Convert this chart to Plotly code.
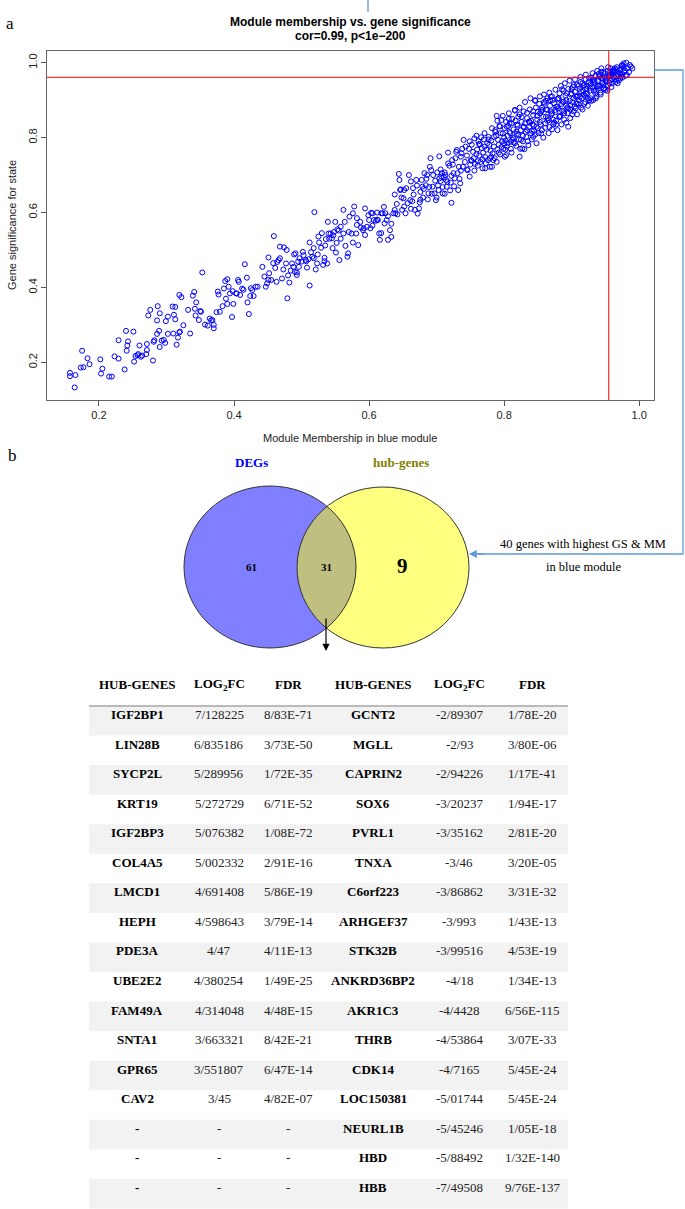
import plotly.graph_objects as go

W, H = 685, 1209

# ---------------- data: panel a (scatter) ----------------
module_membership = [
0.157,0.157,0.165,0.164,0.175,0.173,0.177,0.183,0.186,0.202,0.203,0.205,0.215,0.219,0.223,0.229,0.229,0.238,0.240,0.241,
0.242,0.243,0.251,0.252,0.254,0.257,0.258,0.260,0.262,0.264,0.270,0.271,0.271,0.273,0.276,0.280,0.281,0.282,0.286,0.287,
0.289,0.286,0.290,0.290,0.293,0.296,0.298,0.299,0.302,0.302,0.309,0.310,0.311,0.313,0.313,0.315,0.317,0.319,0.319,0.320,
0.322,0.325,0.332,0.335,0.339,0.341,0.342,0.343,0.344,0.348,0.350,0.351,0.353,0.357,0.361,0.364,0.366,0.368,0.370,0.370,
0.374,0.376,0.377,0.379,0.383,0.385,0.387,0.388,0.390,0.390,0.392,0.394,0.397,0.398,0.399,0.403,0.404,0.406,0.407,0.409,
0.412,0.414,0.416,0.419,0.420,0.422,0.424,0.425,0.427,0.429,0.432,0.435,0.442,0.445,0.447,0.449,0.451,0.451,0.455,0.459,
0.461,0.464,0.466,0.468,0.471,0.474,0.477,0.479,0.480,0.482,0.486,0.488,0.490,0.491,0.493,0.493,0.495,0.497,0.500,0.503,
0.506,0.508,0.510,0.512,0.514,0.516,0.518,0.519,0.521,0.523,0.525,0.526,0.529,0.532,0.534,0.534,0.536,0.538,0.539,0.540,
0.543,0.545,0.547,0.548,0.550,0.551,0.552,0.555,0.556,0.558,0.562,0.562,0.565,0.568,0.569,0.571,0.574,0.576,0.578,0.581,
0.582,0.584,0.587,0.591,0.592,0.594,0.597,0.599,0.602,0.603,0.605,0.607,0.610,0.612,0.613,0.615,0.616,0.618,0.620,0.623,
0.624,0.626,0.628,0.631,0.633,0.636,0.638,0.639,0.641,0.644,0.645,0.646,0.647,0.649,0.651,0.652,0.654,0.655,0.659,0.661,
0.662,0.664,0.665,0.668,0.670,0.672,0.674,0.675,0.676,0.678,0.679,0.681,0.684,0.686,0.688,0.690,0.692,0.694,0.697,0.699,
0.701,0.703,0.704,0.706,0.707,0.709,0.711,0.712,0.714,0.715,0.717,0.720,0.722,0.723,0.725,0.727,0.729,0.730,0.733,0.735,
0.736,0.740,0.743,0.746,0.749,0.751,0.754,0.756,0.759,0.761,0.763,0.766,0.768,0.771,0.772,0.775,0.777,0.779,0.781,0.782,
0.785,0.787,0.789,0.791,0.793,0.796,0.798,0.800,0.801,0.803,0.804,0.806,0.808,0.810,0.812,0.814,0.816,0.818,0.821,0.823,
0.825,0.827,0.829,0.830,0.834,0.837,0.840,0.842,0.843,0.846,0.848,0.850,0.853,0.855,0.856,0.860,0.862,0.864,0.866,0.868,
0.869,0.871,0.873,0.876,0.877,0.879,0.881,0.882,0.886,0.888,0.889,0.892,0.894,0.895,0.898,0.900,0.903,0.905,0.907,0.908,
0.909,0.912,0.914,0.918,0.920,0.921,0.923,0.926,0.927,0.931,0.933,0.935,0.937,0.939,0.942,0.944,0.946,0.947,0.950,0.952,
0.955,0.957,0.959,0.960,0.962,0.964,0.966,0.968,0.971,0.973,0.975,0.977,0.979,0.982,0.986,0.981,
0.742,0.745,0.748,0.750,0.752,0.755,0.757,0.760,0.762,0.763,0.765,0.767,0.769,0.770,0.772,0.774,0.776,0.778,0.780,0.781,
0.783,0.785,0.786,0.788,0.790,0.792,0.794,0.795,0.797,0.799,
0.801,0.802,0.804,0.805,0.807,0.808,0.810,0.811,0.813,0.814,0.816,0.817,0.819,0.820,0.822,0.823,0.825,0.826,0.828,0.829,
0.831,0.832,0.834,0.835,0.837,0.838,0.840,0.841,0.843,0.844,0.846,0.847,0.849,0.850,0.852,0.853,0.855,0.856,0.858,0.859,
0.861,0.862,0.864,0.865,0.867,0.868,0.870,0.871,0.873,0.874,0.876,0.877,0.879,0.880,0.882,0.883,0.885,0.886,0.888,0.889,
0.891,0.892,0.894,0.895,0.897,0.898,0.899,0.901,0.902,0.903,
0.905,0.906,0.908,0.909,0.911,0.912,0.913,0.915,0.916,0.917,0.919,0.920,0.921,0.923,0.924,0.925,0.927,0.928,0.929,0.931,
0.932,0.933,0.935,0.936,0.937,0.939,0.940,0.941,0.943,0.944,0.945,0.947,0.948,0.949,0.951,
0.953,0.954,0.956,0.957,0.958,0.960,0.961,0.963,0.964,0.966,0.967,0.969,0.970,0.972,0.973,0.975,0.976,0.978,0.980,0.983,
0.985,0.988,0.990,
0.600,0.605,0.612,0.618,0.622,0.628,0.633,0.638,0.642,0.648,0.652,0.657,0.662,0.666,0.671,0.676,0.680,0.685,0.689,0.693,
0.698,0.702,0.706,0.709,0.713,0.716,0.719,0.722,0.726,0.728,0.731,0.734,0.737,0.739,
0.452,0.458,0.463,0.468,0.473,0.478,0.484,0.489,0.496,0.502,0.507,0.512,0.518,0.524,0.530,0.535,0.541,0.546,0.553,0.558,
0.564,0.570,0.576,0.582,0.588,0.594,
0.790,0.792,0.794,0.796,0.798,0.800,0.802,0.803,0.805,0.807,0.809,0.811,0.812,0.814,0.816,0.818,0.819,0.821,0.823,0.824,
0.826,0.828,0.829,0.831,0.833,0.834,0.836,0.838,0.839,0.841,0.843,0.844,0.846,0.848,0.849,0.851,0.853,0.854,0.856,0.858,
0.859,0.861,0.862,0.864,0.866,0.867,0.869,0.871,0.872,0.874,
0.876,0.877,0.879,0.880,0.882,0.884,0.885,0.887,0.888,0.890,0.892,0.893,0.895,0.897,0.898,0.900,0.901,0.903,0.905,0.906,
0.908,0.910,0.911,0.913,0.914,0.916,0.918,0.919,0.921,0.922,
0.924,0.926,0.928,0.929,0.931,0.933,0.934,0.936,0.938,0.939,0.941,0.943,0.944,0.946,0.948,0.949,0.951,0.953,0.954,0.956,
0.957,0.959,0.961,0.963,0.965,0.967,0.969,0.972,0.974,0.977,
0.745,0.749,0.752,0.756,0.759,0.761,0.764,0.768,0.771,0.773,0.777,0.779,0.782,0.784,0.787,0.789,
0.682,0.687,0.691,0.695,0.700,0.704,0.708,0.712,0.717,0.721,0.724,0.732,0.736,0.738,
]
gene_significance = [
0.172,0.163,0.166,0.133,0.231,0.186,0.187,0.211,0.195,0.208,0.170,0.183,0.162,0.162,0.216,0.259,0.210,0.181,0.284,0.231,
0.245,0.256,0.282,0.202,0.217,0.219,0.222,0.245,0.215,0.218,0.222,0.233,0.249,0.325,0.340,0.205,0.255,0.259,0.276,0.350,
0.284,0.312,0.331,0.241,0.258,0.260,0.252,0.310,0.276,0.322,0.349,0.277,0.327,0.315,0.348,0.247,0.266,0.280,0.380,0.282,
0.374,0.299,0.340,0.277,0.378,0.388,0.343,0.325,0.360,0.313,0.337,0.335,0.440,0.301,0.298,0.317,0.312,0.313,0.291,0.300,
0.334,0.389,0.381,0.335,0.350,0.397,0.417,0.370,0.422,0.356,0.402,0.384,0.321,0.390,0.356,0.384,0.384,0.420,0.415,0.380,
0.397,0.394,0.462,0.426,0.360,0.329,0.377,0.398,0.393,0.377,0.402,0.402,0.455,0.429,0.402,0.411,0.420,0.480,0.420,0.537,
0.452,0.468,0.473,0.509,0.424,0.507,0.464,0.371,0.432,0.413,0.464,0.455,0.442,0.491,0.440,0.433,0.469,0.478,0.469,0.486,
0.473,0.453,0.475,0.405,0.494,0.482,0.478,0.601,0.448,0.464,0.536,0.520,0.506,0.460,0.479,0.470,0.529,0.464,0.575,0.544,
0.544,0.531,0.539,0.548,0.575,0.493,0.519,0.552,0.473,0.562,0.544,0.607,0.511,0.482,0.491,0.589,0.544,0.598,0.616,0.544,
0.567,0.513,0.575,0.553,0.558,0.611,0.562,0.593,0.558,0.599,0.598,0.580,0.578,0.581,0.580,0.544,0.527,0.598,0.598,0.571,
0.598,0.580,0.527,0.553,0.535,0.598,0.607,0.598,0.623,0.703,0.687,0.660,0.662,0.607,0.638,0.616,0.598,0.665,0.700,0.633,
0.683,0.630,0.665,0.607,0.687,0.597,0.611,0.627,0.634,0.687,0.669,0.663,0.673,0.700,0.651,0.722,0.713,0.669,0.651,0.633,
0.707,0.660,0.691,0.684,0.696,0.651,0.694,0.707,0.687,0.669,0.731,0.659,0.626,0.740,0.705,0.691,0.762,0.767,0.722,0.678,
0.749,0.794,0.776,0.713,0.696,0.740,0.762,0.798,0.756,0.737,0.783,0.801,0.742,0.776,0.718,0.785,0.802,0.745,0.749,0.722,
0.802,0.820,0.858,0.794,0.831,0.847,0.811,0.785,0.749,0.753,0.829,0.831,0.838,0.789,0.794,0.787,0.874,0.816,0.856,0.749,
0.794,0.771,0.829,0.769,0.820,0.843,0.811,0.836,0.802,0.900,0.829,0.869,0.865,0.811,0.874,0.891,0.856,0.874,0.847,0.900,
0.909,0.865,0.836,0.874,0.845,0.883,0.905,0.856,0.929,0.896,0.865,0.900,0.881,0.829,0.887,0.918,0.940,0.883,0.890,0.909,
0.891,0.909,0.923,0.940,0.911,0.918,0.938,0.900,0.933,0.954,0.954,0.918,0.936,0.931,0.967,0.976,0.958,0.940,0.927,0.954,
0.963,0.976,0.970,0.956,0.980,0.985,0.964,0.945,0.972,0.963,0.994,0.998,0.980,0.967,0.994,1.000,
0.735,0.752,0.770,0.728,0.781,0.745,0.730,0.768,0.790,0.752,0.735,0.772,0.760,0.795,0.748,0.768,0.740,0.781,0.765,0.792,
0.758,0.776,0.745,0.805,0.768,0.781,0.755,0.812,0.790,0.770,
0.825,0.792,0.776,0.805,0.850,0.815,0.770,0.838,0.800,0.822,0.785,0.845,0.810,0.832,0.795,0.862,0.820,0.842,0.805,0.870,
0.838,0.815,0.852,0.790,0.828,0.875,0.845,0.818,0.860,0.832,0.808,0.880,0.848,0.825,0.890,0.842,0.870,0.820,0.856,0.895,
0.838,0.875,0.905,0.852,0.828,0.885,0.862,0.910,0.848,0.892,0.868,0.835,0.902,0.878,0.918,0.858,0.890,0.872,0.925,0.848,
0.912,0.885,0.865,0.930,0.898,0.875,0.915,0.862,0.935,0.905,
0.922,0.878,0.942,0.912,0.888,0.930,0.948,0.905,0.875,0.925,0.940,0.895,0.955,0.918,0.885,0.948,0.925,0.905,0.960,0.935,
0.900,0.945,0.965,0.925,0.910,0.952,0.970,0.938,0.915,0.958,0.945,0.975,0.930,0.962,0.950,
0.978,0.940,0.965,0.952,0.985,0.945,0.970,0.960,0.978,0.955,0.988,0.968,0.952,0.982,0.970,0.960,0.990,0.975,0.965,0.985,
0.975,0.990,0.985,
0.580,0.565,0.600,0.545,0.615,0.590,0.570,0.648,0.595,0.640,0.660,0.625,0.610,0.648,0.672,0.655,0.640,0.690,0.668,0.650,
0.685,0.672,0.715,0.668,0.700,0.682,0.725,0.698,0.670,0.745,0.705,0.690,0.758,0.722,
0.438,0.465,0.415,0.478,0.448,0.500,0.445,0.488,0.455,0.495,0.470,0.520,0.505,0.488,0.545,0.512,0.530,0.505,0.555,0.530,
0.575,0.548,0.520,0.585,0.560,0.540,
0.845,0.760,0.830,0.775,0.858,0.800,0.768,0.842,0.785,0.865,0.812,0.760,0.850,0.798,0.872,0.778,0.835,0.808,0.880,0.770,
0.855,0.790,0.828,0.895,0.802,0.866,0.780,0.840,0.905,0.795,0.870,0.818,0.898,0.785,0.858,0.812,0.910,0.835,0.880,0.800,
0.915,0.826,0.898,0.845,0.812,0.920,0.870,0.822,0.900,0.840,
0.928,0.882,0.820,0.905,0.855,0.938,0.835,0.895,0.870,0.945,0.840,0.918,0.878,0.952,0.852,0.930,0.895,0.870,0.955,0.910,
0.862,0.938,0.900,0.962,0.880,0.945,0.915,0.890,0.968,0.930,
0.905,0.958,0.942,0.898,0.972,0.925,0.950,0.905,0.978,0.938,0.962,0.920,0.985,0.948,0.932,0.972,0.958,0.925,0.988,0.945,
0.968,0.935,0.978,0.962,0.948,0.982,0.975,0.958,0.992,0.985,
0.715,0.790,0.738,0.712,0.805,0.725,0.782,0.718,0.812,0.732,0.795,0.722,0.825,0.740,0.815,0.735,
0.705,0.635,0.745,0.700,0.640,0.750,0.705,0.650,0.760,0.680,0.728,0.660,0.712,0.770,
]
mm_threshold = 0.955
gs_threshold = 0.961
x_ticks = [0.2, 0.4, 0.6, 0.8, 1.0]
y_ticks = [0.2, 0.4, 0.6, 0.8, 1.0]

# ---------------- data: panel b (venn) ----------------
set_names = ["DEGs", "hub-genes"]
venn_counts = [61, 31, 9]   # DEGs only, both, hub-genes only
hub_note = ["40 genes with highest GS & MM", "in blue module"]

# ---------------- data: table ----------------
header = ["HUB-GENES", "LOG<sub>2</sub>FC", "FDR", "HUB-GENES", "LOG<sub>2</sub>FC", "FDR"]
up_genes = ["IGF2BP1","LIN28B","SYCP2L","KRT19","IGF2BP3","COL4A5","LMCD1","HEPH","PDE3A","UBE2E2",
            "FAM49A","SNTA1","GPR65","CAV2","-","-","-"]
up_log2fc = ["7/128225","6/835186","5/289956","5/272729","5/076382","5/002332","4/691408","4/598643","4/47",
             "4/380254","4/314048","3/663321","3/551807","3/45","-","-","-"]
up_fdr = ["8/83E-71","3/73E-50","1/72E-35","6/71E-52","1/08E-72","2/91E-16","5/86E-19","3/79E-14","4/11E-13",
          "1/49E-25","4/48E-15","8/42E-21","6/47E-14","4/82E-07","-","-","-"]
down_genes = ["GCNT2","MGLL","CAPRIN2","SOX6","PVRL1","TNXA","C6orf223","ARHGEF37","STK32B","ANKRD36BP2",
              "AKR1C3","THRB","CDK14","LOC150381","NEURL1B","HBD","HBB"]
down_log2fc = ["-2/89307","-2/93","-2/94226","-3/20237","-3/35162","-3/46","-3/86862","-3/993","-3/99516",
               "-4/18","-4/4428","-4/53864","-4/7165","-5/01744","-5/45246","-5/88492","-7/49508"]
down_fdr = ["1/78E-20","3/80E-06","1/17E-41","1/94E-17","2/81E-20","3/20E-05","3/31E-32","1/43E-13","4/53E-19",
            "1/34E-13","6/56E-115","3/07E-33","5/45E-24","5/45E-24","1/05E-18","1/32E-140","9/76E-137"]

# ---------------- helpers (pixel -> paper) ----------------
def px(x):
    return x / W

def py(y):
    return 1 - y / H

SANS = "Liberation Sans, Arial, sans-serif"
SERIF = "Liberation Serif, Times New Roman, serif"
LINK = "#5b9bd5"

fig = go.Figure()

fig.add_trace(go.Scatter(
    x=module_membership, y=gene_significance, mode="markers",
    marker=dict(symbol="circle-open", size=5, color="blue", line=dict(width=1, color="blue")),
    hoverinfo="x+y", showlegend=False,
))

fig.update_layout(
    width=W, height=H, margin=dict(l=0, r=0, t=0, b=0),
    paper_bgcolor="white", plot_bgcolor="white", showlegend=False,
    xaxis=dict(domain=[px(47), px(654)], range=[0.123, 1.022], tickvals=x_ticks,
               ticktext=[f"{v:.1f}" for v in x_ticks], ticks="outside", ticklen=5,
               tickcolor="#555", showline=True, linecolor="#666", mirror=True,
               showgrid=False, zeroline=False, tickfont=dict(family=SANS, size=11, color="#222")),
    yaxis=dict(domain=[py(400), py(50.7)], range=[0.0995, 1.032], tickvals=y_ticks,
               ticktext=[f"{v:.1f}" for v in y_ticks], ticks="outside", ticklen=5,
               tickcolor="#555", showline=True, linecolor="#666", mirror=True,
               showgrid=False, zeroline=False, tickangle=-90,
               tickfont=dict(family=SANS, size=11, color="#222")),
)

shapes = []
# threshold lines
shapes.append(dict(type="line", xref="x", yref="y domain", x0=mm_threshold, x1=mm_threshold, y0=0, y1=1,
                   line=dict(color="red", width=1)))
shapes.append(dict(type="line", xref="x domain", yref="y", x0=0, x1=1, y0=gs_threshold, y1=gs_threshold,
                   line=dict(color="red", width=1)))

# connector lines
shapes.append(dict(type="line", xref="paper", yref="paper", x0=px(368), x1=px(368), y0=py(0), y1=py(12),
                   line=dict(color=LINK, width=1.3)))
shapes.append(dict(type="path", xref="paper", yref="paper",
                   path=f"M {px(654)},{py(70)} L {px(683)},{py(70)} L {px(683)},{py(554)} L {px(478)},{py(554)}",
                   line=dict(color=LINK, width=1.3)))

# venn
blue_box = (184, 486, 356, 648)
yellow_box = (297, 487, 469, 648)
for (x0, y0, x1, y1), col in [(blue_box, "rgb(0,0,255)"), (yellow_box, "rgb(255,255,0)")]:
    shapes.append(dict(type="circle", xref="paper", yref="paper", x0=px(x0), x1=px(x1), y0=py(y1), y1=py(y0),
                       fillcolor=col, opacity=0.5, line=dict(width=0)))
for (x0, y0, x1, y1) in [blue_box, yellow_box]:
    shapes.append(dict(type="circle", xref="paper", yref="paper", x0=px(x0), x1=px(x1), y0=py(y1), y1=py(y0),
                       fillcolor="rgba(0,0,0,0)", line=dict(color="#333", width=1)))

# table geometry
TAB_L, TAB_R = 89, 568
HEAD_Y = 684
ROW0 = 706
ROW_H = 29.56
COL_X = [137, 219, 288, 373, 459, 532]
n_rows = len(up_genes)
for i in range(n_rows):
    if i % 2 == 0:
        shapes.append(dict(type="rect", xref="paper", yref="paper", layer="below",
                           x0=px(TAB_L), x1=px(TAB_R), y0=py(ROW0 + (i + 1) * ROW_H), y1=py(ROW0 + i * ROW_H),
                           fillcolor="#f2f2f2", line=dict(width=0)))
shapes.append(dict(type="line", xref="paper", yref="paper", x0=px(TAB_L), x1=px(TAB_R), y0=py(ROW0), y1=py(ROW0),
                   line=dict(color="#a6a6a6", width=1.5)))

ann = []
def text(x, y, s, size, family=SANS, color="black", **kw):
    ann.append(dict(x=px(x), y=py(y), xref="paper", yref="paper", text=s, showarrow=False,
                    xanchor="center", yanchor="middle",
                    font=dict(family=family, size=size, color=color), **kw))

text(10, 24, "a", 17, SERIF)
text(12, 455, "b", 17, SERIF)
text(350, 22, "<b>Module membership vs. gene significance</b>", 12)
text(350, 36, "<b>cor=0.99, p<1e\u2212200</b>", 12)
text(350, 438, "Module Membership in blue module", 11, color="#222")
text(12, 225, "Gene significance for state", 11, color="#222", textangle=-90)

text(252, 463, f"<b>{set_names[0]}</b>", 13, SERIF, "blue")
text(401, 463, f"<b>{set_names[1]}</b>", 13, SERIF, "#808000")
text(251, 567, f"<b>{venn_counts[0]}</b>", 11, SERIF)
text(326, 567, f"<b>{venn_counts[1]}</b>", 11, SERIF)
text(402, 566, f"<b>{venn_counts[2]}</b>", 21, SERIF)
text(583, 544, hub_note[0], 12.5, SERIF)
text(583, 567, hub_note[1], 12.5, SERIF)

# table text
for cx, h in zip(COL_X, header):
    text(cx, HEAD_Y, f"<b>{h}</b>", 13, SERIF)
columns = [up_genes, up_log2fc, up_fdr, down_genes, down_log2fc, down_fdr]
for j, (cx, col) in enumerate(zip(COL_X, columns)):
    for i, v in enumerate(col):
        s = f"<b>{v}</b>" if j in (0, 3) else v
        text(cx, ROW0 + i * ROW_H + 8.5, s, 13, SERIF, "black" if j in (0, 3) else "#222")

# arrows
ann.append(dict(x=px(469), y=py(554), xref="paper", yref="paper", ax=16, ay=0, text="",
                showarrow=True, arrowhead=2, arrowsize=1.2, arrowwidth=1.3, arrowcolor=LINK))
ann.append(dict(x=px(326), y=py(651), xref="paper", yref="paper", ax=0, ay=-34, text="",
                showarrow=True, arrowhead=2, arrowsize=1.2, arrowwidth=1.2, arrowcolor="black"))

fig.update_layout(shapes=shapes, annotations=ann)

fig.write_html("out.html", config={"displayModeBar": False},
               post_script="document.body.style.margin='0';document.body.style.overflow='hidden';")
